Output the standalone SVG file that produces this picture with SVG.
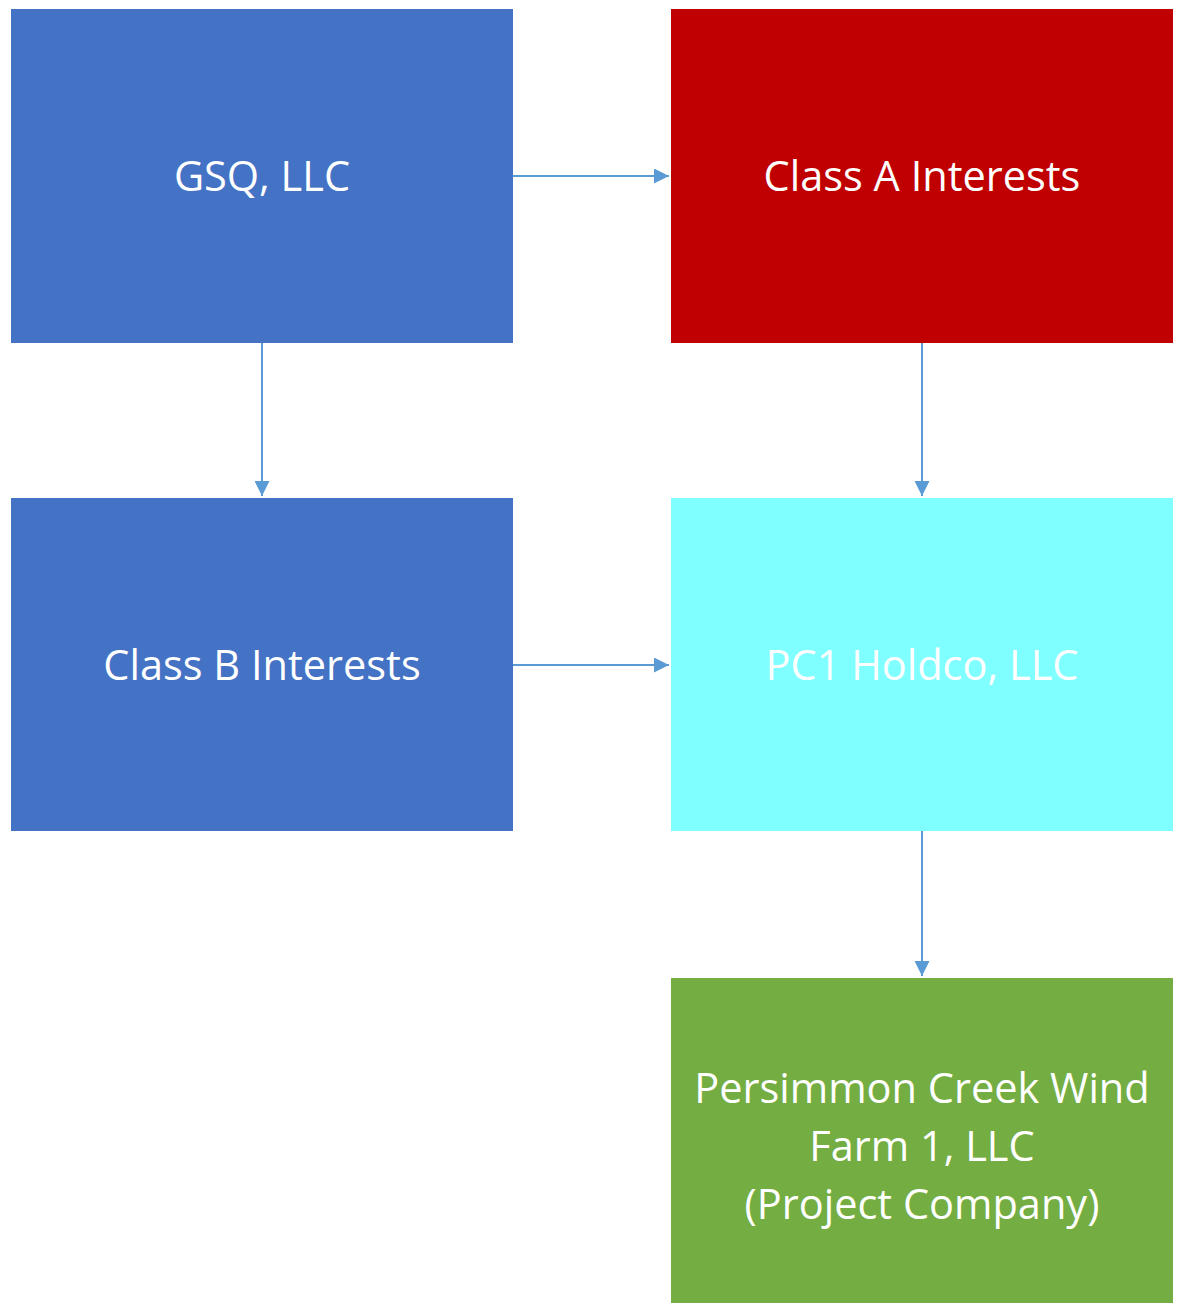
<svg xmlns="http://www.w3.org/2000/svg" width="1180" height="1304" viewBox="0 0 1180 1304">
<style>
.t{font-family:"Open Sans","Noto Sans",sans-serif;font-size:41.5px;fill:#FFFFFF;text-anchor:middle}
.c{stroke:#5B9BD5;stroke-width:2;fill:none}
</style>
<defs>
<marker id="ah" viewBox="0 0 10 10" refX="10" refY="5" markerWidth="7.5" markerHeight="7.5" markerUnits="strokeWidth" orient="auto">
<path d="M0,0 L10,5 L0,10 Z" fill="#5B9BD5"/>
</marker>
</defs>
<rect width="1180" height="1304" fill="#FFFFFF"/>
<g id="gsq"><rect x="11" y="9" width="502" height="334" fill="#4472C4"/><text class="t" x="262" y="191">GSQ, LLC</text></g>
<g id="classA"><rect x="671" y="9" width="502" height="334" fill="#C00000"/><text class="t" x="922" y="191">Class A Interests</text></g>
<g id="classB"><rect x="11" y="498" width="502" height="333" fill="#4472C4"/><text class="t" x="262" y="680">Class B Interests</text></g>
<g id="pc1"><rect x="671" y="498" width="502" height="333" fill="#7FFFFF"/><text class="t" x="922" y="680">PC1 Holdco, LLC</text></g>
<g id="persimmon"><rect x="671" y="978" width="502" height="325" fill="#74AD42"/>
<text class="t" x="922" y="1103">Persimmon Creek Wind</text>
<text class="t" x="922" y="1161">Farm 1, LLC</text>
<text class="t" x="922" y="1219">(Project Company)</text></g>
<g id="connectors">
<line class="c" x1="513" y1="176" x2="669" y2="176" marker-end="url(#ah)"/>
<line class="c" x1="262" y1="343" x2="262" y2="496" marker-end="url(#ah)"/>
<line class="c" x1="922" y1="343" x2="922" y2="496" marker-end="url(#ah)"/>
<line class="c" x1="513" y1="665" x2="669" y2="665" marker-end="url(#ah)"/>
<line class="c" x1="922" y1="831" x2="922" y2="976" marker-end="url(#ah)"/>
</g>
</svg>
